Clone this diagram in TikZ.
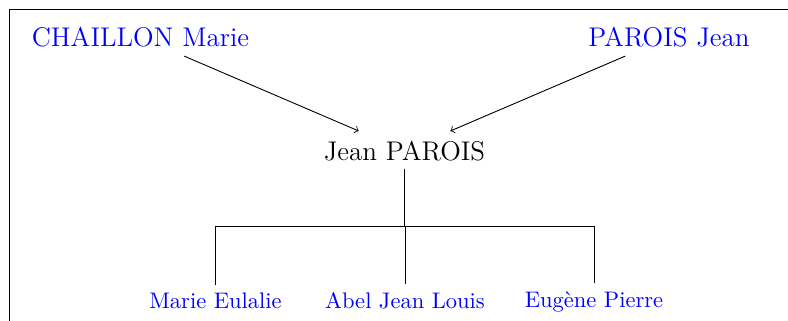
\documentclass[tikz,border=0pt]{standalone}
\usepackage{tikz}
\begin{document}
\begin{tikzpicture}[x=0.4444pt,y=-0.4444pt,
  parent/.style={font=\large,text=blue,anchor=base},
  root/.style={font=\large,text=black,anchor=base},
  child/.style={font=\normalsize,text=blue,anchor=base},
  link/.style={line width=0.4pt},
  ]
\useasboundingbox (0,0) rectangle (788,320);
\draw[link] (9.5,330) -- (9.5,9.5) -- (800,9.5);
\node[parent] (m) at (140.5,46.7) {CHAILLON Marie};
\node[parent] (p) at (669,46.7) {PAROIS Jean};
\node[root] (c) at (404.5,160) {Jean PAROIS};
\node[child] (k1) at (215.5,308.5) {Marie Eulalie};
\node[child] (k2) at (405,308.5) {Abel Jean Louis};
\node[child] (k3) at (594,307) {Eugène Pierre};
\draw[link,->,shorten <=1pt,shorten >=2pt] (m) -- (c);
\draw[link,->,shorten <=1pt,shorten >=2pt] (p) -- (c);
\coordinate (j) at (404.5,226);
\draw[line width=0.6pt] (c.south) -- (j);
\draw[link] (j -| k1) -- (j -| k3);
\draw[link] (j -| k1) -- (k1.north);
\draw[link] (j -| k2) -- (k2.north);
\draw[link] (j -| k3) -- (k3.north);
\end{tikzpicture}
\end{document}
